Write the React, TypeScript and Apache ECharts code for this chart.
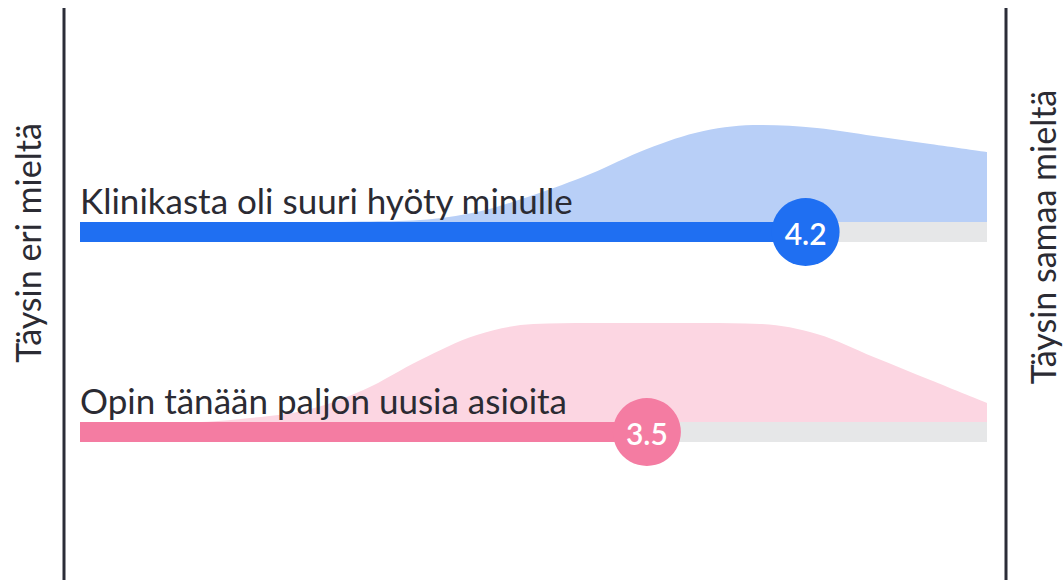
import React, { useEffect, useRef } from "react";
import * as echarts from "echarts";

// Likert scale positions (1 = Täysin eri mieltä, 5 = Täysin samaa mieltä)
const SCALE_POINTS = [1, 1.25, 1.5, 1.75, 2, 2.25, 2.5, 2.75, 3, 3.25, 3.5, 3.75, 4, 4.25, 4.5, 4.75, 5];
// Relative answer density along the scale for each statement
const BLUE_DENSITY = [0, 0, 0, 0, 0, 0.5, 2, 10, 27, 48, 73, 91, 97, 94, 86, 78, 70];
const PINK_DENSITY = [0, 0, 0, 4, 12, 32, 62, 87, 98, 99, 99, 99, 98, 88, 65, 42, 19];

const STATEMENTS = ["Klinikasta oli suuri hyöty minulle", "Opin tänään paljon uusia asioita"];
const MEANS = [4.2, 3.5];
const LOW_LABEL = "Täysin eri mieltä";
const HIGH_LABEL = "Täysin samaa mieltä";

const BAR_COLORS = ["#1f6ff2", "#f47ca2"];
const AREA_COLORS = ["#b8cff7", "#fcd6e2"];
const FONT = "Lato, 'Noto Sans', sans-serif";

export default function App() {
  const ref = useRef<HTMLDivElement>(null);

  useEffect(() => {
    if (!ref.current) return;
    const chart = echarts.init(ref.current, undefined, { renderer: "svg" });

    const densities = [BLUE_DENSITY, PINK_DENSITY];
    const grids = [
      { left: 80, width: 907, top: 122, height: 100 },
      { left: 80, width: 907, top: 322, height: 100 },
    ];

    const series: any[] = [];
    densities.forEach((d, i) => {
      series.push({
        type: "line",
        xAxisIndex: i,
        yAxisIndex: i,
        data: SCALE_POINTS.map((x, k) => [x, d[k]]),
        smooth: 0.35,
        showSymbol: false,
        lineStyle: { width: 0 },
        areaStyle: { color: AREA_COLORS[i], opacity: 1 },
        z: 1,
        silent: true,
      });
      const color = BAR_COLORS[i];
      const label = STATEMENTS[i];
      series.push({
        type: "custom",
        xAxisIndex: i,
        yAxisIndex: i,
        data: [[MEANS[i], 0]],
        clip: false,
        z: 3,
        renderItem: (params: any, api: any) => {
          const v = api.value(0);
          const start = api.coord([1, 0]);
          const end = api.coord([5, 0]);
          const pt = api.coord([v, 0]);
          const base = start[1];
          return {
            type: "group",
            children: [
              {
                type: "rect",
                shape: { x: start[0], y: base, width: end[0] - start[0], height: 20 },
                style: { fill: "#e6e7e8" },
              },
              {
                type: "rect",
                shape: { x: start[0], y: base, width: pt[0] - start[0], height: 20 },
                style: { fill: color },
              },
              {
                type: "text",
                x: start[0],
                y: base - 5,
                style: {
                  text: label,
                  fill: "#2b2b33",
                  fontSize: 35,
                  fontFamily: FONT,
                  align: "left",
                  verticalAlign: "bottom",
                },
              },
              {
                type: "circle",
                shape: { cx: pt[0], cy: base + 10, r: 34 },
                style: { fill: color },
              },
              {
                type: "text",
                x: pt[0],
                y: base + 11,
                style: {
                  text: v.toFixed(1),
                  fill: "#ffffff",
                  fontSize: 30,
                  fontWeight: 600,
                  fontFamily: FONT,
                  align: "center",
                  verticalAlign: "middle",
                },
              },
            ],
          };
        },
      });
    });

    chart.setOption({
      animation: false,
      grid: grids,
      xAxis: grids.map((_, i) => ({ type: "value", gridIndex: i, min: 1, max: 5, show: false })),
      yAxis: grids.map((_, i) => ({ type: "value", gridIndex: i, min: 0, max: 100, show: false })),
      series,
      graphic: [
        { type: "line", shape: { x1: 64, y1: 8, x2: 64, y2: 580 }, style: { stroke: "#2b2d38", lineWidth: 3 } },
        { type: "line", shape: { x1: 1006, y1: 8, x2: 1006, y2: 580 }, style: { stroke: "#2b2d38", lineWidth: 3 } },
        {
          type: "text",
          x: 27,
          y: 243,
          rotation: Math.PI / 2,
          style: {
            text: LOW_LABEL,
            fill: "#2b2b33",
            fontSize: 34,
            fontFamily: FONT,
            align: "center",
            verticalAlign: "middle",
          },
        },
        {
          type: "text",
          x: 1042,
          y: 237,
          rotation: Math.PI / 2,
          style: {
            text: HIGH_LABEL,
            fill: "#2b2b33",
            fontSize: 34,
            fontFamily: FONT,
            align: "center",
            verticalAlign: "middle",
          },
        },
      ],
    });

    return () => chart.dispose();
  }, []);

  return (
    <div
      ref={ref}
      style={{ position: "absolute", left: 0, top: 0, width: 1064, height: 580, background: "#ffffff" }}
    />
  );
}
